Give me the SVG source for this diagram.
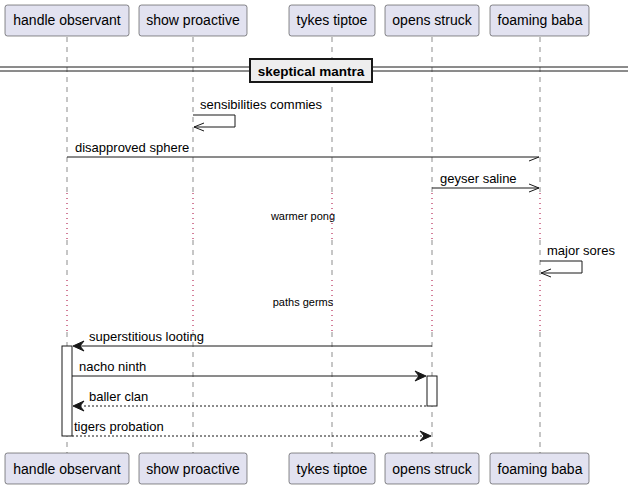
<svg xmlns="http://www.w3.org/2000/svg" width="628" height="490" viewBox="0 0 628 490">
<style>
.p{fill:#E2E2F0;stroke:#181818;stroke-width:0.5}
.pt{font-family:"Liberation Sans",Arial,sans-serif;font-size:14px;fill:#000;text-anchor:middle}
.life{stroke:#181818;stroke-width:0.5;stroke-dasharray:5,5;fill:none}
.delay{stroke:#A80036;stroke-width:1;stroke-dasharray:1,4;fill:none}
.m{stroke:#181818;stroke-width:1;fill:none}
.d{stroke:#181818;stroke-width:1;fill:none;stroke-dasharray:2,2}
.ah{fill:#181818;stroke:#181818;stroke-width:1}
.t{font-family:"Liberation Sans",Arial,sans-serif;font-size:13px;fill:#000}
.st{font-family:"Liberation Sans",Arial,sans-serif;font-size:11px;fill:#000;text-anchor:middle}
.act{fill:#FFFFFF;stroke:#181818;stroke-width:1}
</style>
<g id="lifelines">
<line class="life" x1="67" y1="37" x2="67" y2="193"/><line class="delay" x1="67" y1="193" x2="67" y2="240"/><line class="life" x1="67" y1="240" x2="67" y2="280"/><line class="delay" x1="67" y1="280" x2="67" y2="332"/><line class="life" x1="67" y1="332" x2="67" y2="453"/>
<line class="life" x1="193" y1="37" x2="193" y2="193"/><line class="delay" x1="193" y1="193" x2="193" y2="240"/><line class="life" x1="193" y1="240" x2="193" y2="280"/><line class="delay" x1="193" y1="280" x2="193" y2="332"/><line class="life" x1="193" y1="332" x2="193" y2="453"/>
<line class="life" x1="332" y1="37" x2="332" y2="193"/><line class="delay" x1="332" y1="193" x2="332" y2="240"/><line class="life" x1="332" y1="240" x2="332" y2="280"/><line class="delay" x1="332" y1="280" x2="332" y2="332"/><line class="life" x1="332" y1="332" x2="332" y2="453"/>
<line class="life" x1="432" y1="37" x2="432" y2="193"/><line class="delay" x1="432" y1="193" x2="432" y2="240"/><line class="life" x1="432" y1="240" x2="432" y2="280"/><line class="delay" x1="432" y1="280" x2="432" y2="332"/><line class="life" x1="432" y1="332" x2="432" y2="453"/>
<line class="life" x1="540" y1="37" x2="540" y2="193"/><line class="delay" x1="540" y1="193" x2="540" y2="240"/><line class="life" x1="540" y1="240" x2="540" y2="280"/><line class="delay" x1="540" y1="280" x2="540" y2="332"/><line class="life" x1="540" y1="332" x2="540" y2="453"/>
</g>
<g id="p-handle-observant">
<rect class="p" x="5" y="5" width="124" height="31" rx="2.5"/><text class="pt" x="67" y="25">handle observant</text>
<rect class="p" x="5" y="453" width="124" height="31" rx="2.5"/><text class="pt" x="67" y="474">handle observant</text>
</g>
<g id="p-show-proactive">
<rect class="p" x="139" y="5" width="108" height="31" rx="2.5"/><text class="pt" x="193" y="25">show proactive</text>
<rect class="p" x="139" y="453" width="108" height="31" rx="2.5"/><text class="pt" x="193" y="474">show proactive</text>
</g>
<g id="p-tykes-tiptoe">
<rect class="p" x="289" y="5" width="86" height="31" rx="2.5"/><text class="pt" x="332" y="25">tykes tiptoe</text>
<rect class="p" x="289" y="453" width="86" height="31" rx="2.5"/><text class="pt" x="332" y="474">tykes tiptoe</text>
</g>
<g id="p-opens-struck">
<rect class="p" x="385" y="5" width="94" height="31" rx="2.5"/><text class="pt" x="432" y="25">opens struck</text>
<rect class="p" x="385" y="453" width="94" height="31" rx="2.5"/><text class="pt" x="432" y="474">opens struck</text>
</g>
<g id="p-foaming-baba">
<rect class="p" x="490" y="5" width="99" height="31" rx="2.5"/><text class="pt" x="540" y="25">foaming baba</text>
<rect class="p" x="490" y="453" width="99" height="31" rx="2.5"/><text class="pt" x="540" y="474">foaming baba</text>
</g>
<g id="divider">
<line x1="0" y1="67" x2="628" y2="67" stroke="#181818" stroke-width="1"/>
<line x1="0" y1="71" x2="628" y2="71" stroke="#181818" stroke-width="1"/>
<rect x="250" y="59" width="122" height="23" fill="#EEEEEE" stroke="#181818" stroke-width="2"/>
<text x="311" y="75.5" font-family="Liberation Sans,Arial,sans-serif" font-size="13.5" font-weight="bold" text-anchor="middle">skeptical mantra</text>
</g>
<g id="activations">
<rect class="act" x="62" y="346" width="10" height="90"/>
<rect class="act" x="427" y="376" width="10" height="30"/>
</g>
<g id="connectors">
<polyline class="m" points="193,115 235,115 235,127 194,127"/>
<polyline class="m" points="204,123 194,127 204,131"/>
<text class="t" x="200" y="109">sensibilities commies</text>
<line class="m" x1="67" y1="157" x2="539" y2="157"/>
<line class="m" x1="529" y1="161" x2="539" y2="157"/>
<text class="t" x="75" y="152">disapproved sphere</text>
<line class="m" x1="432" y1="188" x2="539" y2="188"/>
<polyline class="m" points="529,184 539,188 529,192"/>
<text class="t" x="440" y="183">geyser saline</text>
<text class="st" x="303" y="220">warmer pong</text>
<polyline class="m" points="540,261 582,261 582,273 541,273"/>
<polyline class="m" points="551,269 541,273 551,277"/>
<text class="t" x="547" y="255">major sores</text>
<text class="st" x="303" y="306">paths germs</text>
<line class="m" x1="80" y1="346" x2="432" y2="346"/>
<polygon class="ah" points="84,341 73,346 84,351 80,346"/>
<text class="t" x="89" y="341">superstitious looting</text>
<line class="m" x1="72" y1="376" x2="419" y2="376"/>
<polygon class="ah" points="415,371 426,376 415,381 419,376"/>
<text class="t" x="79" y="371">nacho ninth</text>
<line class="d" x1="80" y1="406" x2="427" y2="406"/>
<polygon class="ah" points="84,401 73,406 84,411 80,406"/>
<text class="t" x="89" y="401">baller clan</text>
<line class="d" x1="72" y1="436" x2="424" y2="436"/>
<polygon class="ah" points="420,431 431,436 420,441 424,436"/>
<text class="t" x="74" y="431">tigers probation</text>
</g>
</svg>
